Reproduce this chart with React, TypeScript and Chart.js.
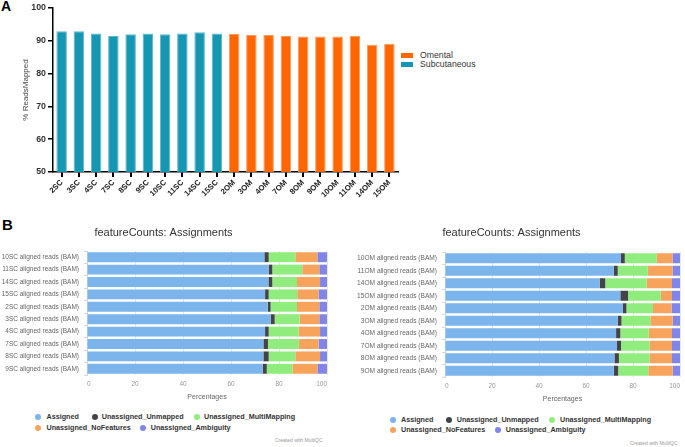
import React, { useEffect, useRef } from 'react';
import { Chart, registerables } from 'chart.js';

Chart.register(...registerables);

const FONT = "'Liberation Sans', Arial, Helvetica, sans-serif";

// ---------- Panel A data ----------
const samplesA = ['2SC', '3SC', '4SC', '7SC', '8SC', '9SC', '10SC', '11SC', '14SC', '15SC',
  '2OM', '3OM', '4OM', '7OM', '8OM', '9OM', '10OM', '11OM', '14OM', '15OM'];
const omentalA = [null, null, null, null, null, null, null, null, null, null,
  92.1, 91.8, 91.8, 91.5, 91.3, 91.3, 91.3, 91.5, 88.8, 89.1];
const subcutaneousA = [92.9, 92.9, 92.2, 91.5, 92.0, 92.2, 92.0, 92.2, 92.6, 92.2,
  null, null, null, null, null, null, null, null, null, null];
const yTicksA = [50, 60, 70, 80, 90, 100];

// ---------- Panel B data ----------
const seriesNames = ['Assigned', 'Unassigned_Unmapped', 'Unassigned_MultiMapping', 'Unassigned_NoFeatures', 'Unassigned_Ambiguity'];
const seriesColors = ['#7cb5ec', '#434348', '#90ed7d', '#f7a35c', '#8085e9'];

const samplesSC = ['10SC aligned reads (BAM)', '11SC aligned reads (BAM)', '14SC aligned reads (BAM)', '15SC aligned reads (BAM)',
  '2SC aligned reads (BAM)', '3SC aligned reads (BAM)', '4SC aligned reads (BAM)', '7SC aligned reads (BAM)',
  '8SC aligned reads (BAM)', '9SC aligned reads (BAM)'];
const assignedSC = [73.9, 75.8, 75.6, 74.2, 75.3, 76.5, 74.2, 73.5, 73.5, 73.2];
const unmappedSC = [1.8, 1.4, 1.6, 1.5, 1.2, 1.7, 1.5, 1.9, 2.2, 1.7];
const multiSC = [11.1, 12.5, 10.3, 11.9, 11.0, 10.4, 12.5, 12.9, 11.1, 10.7];
const noFeatSC = [9.2, 7.1, 9.6, 8.9, 9.3, 8.2, 8.9, 8.2, 10.3, 10.4];
const ambigSC = [4.0, 3.2, 2.9, 3.5, 3.2, 3.2, 2.9, 3.5, 2.9, 4.0];

const samplesOM = ['10OM aligned reads (BAM)', '11OM aligned reads (BAM)', '14OM aligned reads (BAM)', '15OM aligned reads (BAM)',
  '2OM aligned reads (BAM)', '3OM aligned reads (BAM)', '4OM aligned reads (BAM)', '7OM aligned reads (BAM)',
  '8OM aligned reads (BAM)', '9OM aligned reads (BAM)'];
const assignedOM = [74.9, 71.8, 65.8, 74.6, 75.7, 73.5, 72.8, 73.2, 72.1, 71.8];
const unmappedOM = [1.6, 1.7, 2.4, 3.3, 1.5, 1.6, 1.8, 1.7, 1.9, 1.9];
const multiOM = [13.6, 12.8, 17.6, 13.9, 11.3, 12.3, 12.1, 12.1, 13.0, 12.8];
const noFeatOM = [6.7, 10.5, 10.8, 4.8, 7.9, 9.5, 9.9, 9.6, 9.6, 10.4];
const ambigOM = [3.2, 3.2, 3.4, 3.4, 3.6, 3.1, 3.4, 3.4, 3.4, 3.1];

const pctTicks = [0, 20, 40, 60, 80, 100];

function useChart(factory: () => any) {
  const ref = useRef<HTMLCanvasElement | null>(null);
  useEffect(() => {
    if (!ref.current) return;
    const chart = new Chart(ref.current, factory());
    return () => chart.destroy();
  }, []);
  return ref;
}

function PanelA() {
  const ref = useChart(() => ({
    type: 'bar',
    data: {
      labels: samplesA,
      datasets: [
        { label: 'Omental', data: omentalA, backgroundColor: '#ff6600', borderColor: '#ff9a5c', borderWidth: 1, grouped: false },
        { label: 'Subcutaneous', data: subcutaneousA, backgroundColor: '#1596b2', borderColor: '#5db8cc', borderWidth: 1, grouped: false },
      ],
    },
    options: {
      responsive: false,
      animation: false,
      layout: { padding: { top: 8, right: 2, left: 0, bottom: 0 } },
      plugins: { legend: { display: false }, tooltip: { enabled: false } },
      datasets: { bar: { barPercentage: 0.61, categoryPercentage: 1 } },
      scales: {
        x: {
          afterFit: (s: any) => { s.height = 33; },
          grid: { display: true, drawOnChartArea: false, drawTicks: true, tickLength: 5, offset: false, color: '#000', lineWidth: 2 },
          border: { display: true, color: '#000', width: 1.5 },
          ticks: { minRotation: 45, maxRotation: 45, autoSkip: false, padding: 1, color: '#222', font: { family: FONT, size: 7.8, weight: 'bold' } },
        },
        y: {
          min: yTicksA[0],
          max: yTicksA[yTicksA.length - 1],
          afterFit: (s: any) => { s.width = 53; },
          afterBuildTicks: (s: any) => { s.ticks = yTicksA.map((v) => ({ value: v })); },
          grid: { display: true, drawOnChartArea: false, drawTicks: true, tickLength: 5, color: '#000', lineWidth: 1.5 },
          border: { display: true, color: '#000', width: 1.5 },
          ticks: { padding: 2, color: '#333', font: { family: FONT, size: 8.8, weight: 'bold' } },
          title: { display: true, text: '% ReadsMapped', color: '#444', padding: { top: 20.5, bottom: 0 }, font: { family: FONT, size: 8 } },
        },
      },
    },
  }));
  return <canvas ref={ref} width={400} height={205} style={{ position: 'absolute', left: 0, top: 0, width: 400, height: 205 }} />;
}

function PanelB(props: {
  labels: string[]; values: number[][]; titleTop: number; titleBottom: number;
  yWidth: number; xHeight: number; padRight: number; width: number; left: number; titlePadBottom: number; labelSize: number;
}) {
  const ref = useChart(() => ({
    type: 'bar',
    data: {
      labels: props.labels,
      datasets: seriesNames.map((name, i) => ({
        label: name, data: props.values[i], backgroundColor: seriesColors[i], borderWidth: 0,
      })),
    },
    options: {
      responsive: false,
      animation: false,
      indexAxis: 'y',
      layout: { padding: { top: 0, right: props.padRight, left: 0, bottom: 0 } },
      datasets: { bar: { barPercentage: 0.8, categoryPercentage: 1 } },
      plugins: {
        legend: { display: false },
        tooltip: { enabled: false },
        title: {
          display: true, text: 'featureCounts: Assignments', color: '#333',
          padding: { top: props.titleTop, bottom: props.titleBottom },
          font: { family: FONT, size: 11, weight: 'normal', lineHeight: 1.2 },
        },
      },
      scales: {
        x: {
          stacked: true, min: 0, max: 100,
          afterFit: (s: any) => { s.height = props.xHeight; },
          afterBuildTicks: (s: any) => { s.ticks = pctTicks.map((v) => ({ value: v })); },
          grid: { color: '#e6e6e6', lineWidth: 1, drawTicks: false },
          border: { display: false },
          ticks: { padding: 5, align: 'inner', color: '#999', font: { family: FONT, size: 6.5 } },
          title: { display: true, text: 'Percentages', color: '#666', padding: { top: 0, bottom: props.titlePadBottom }, font: { family: FONT, size: 7 } },
        },
        y: {
          stacked: true,
          afterFit: (s: any) => { s.width = props.yWidth; },
          grid: { display: true, drawOnChartArea: false, drawTicks: true, tickLength: 3, offset: true, color: '#ccd6eb' },
          border: { display: true, color: '#ccd6eb', width: 1 },
          ticks: { padding: 5, autoSkip: false, color: '#666', font: { family: FONT, size: props.labelSize } },
        },
      },
    },
  }));
  return <canvas ref={ref} width={props.width} height={190} style={{ position: 'absolute', left: props.left, top: 215, width: props.width, height: 190 }} />;
}

type LegendItem = { name: string; color: string; dot: number; text: number; y: number };

function DotLegend({ items }: { items: LegendItem[] }) {
  return (
    <>
      {items.map((it) => (
        <React.Fragment key={it.name}>
          <div style={{ position: 'absolute', left: it.dot - 3, top: it.y - 3, width: 6, height: 6, borderRadius: 3, background: it.color }} />
          <div style={{ position: 'absolute', left: it.text, top: it.y - 5, height: 10, lineHeight: '10px', fontFamily: FONT, fontSize: 7.2, fontWeight: 'bold', color: '#333', whiteSpace: 'nowrap' }}>{it.name}</div>
        </React.Fragment>
      ))}
    </>
  );
}

const leftLegendPos = [[38, 46.5, 417], [95, 101.7, 417], [196.7, 204, 417], [38, 46.5, 428.3], [143.3, 150.7, 428.3]];
const rightLegendPos = [[392.7, 401, 419.7], [449, 456.7, 419.7], [552.3, 560, 419.7], [392.7, 401, 430.3], [498.3, 505.7, 430.3]];

export default function App() {
  const leftItems = seriesNames.map((n, i) => ({ name: n, color: seriesColors[i], dot: leftLegendPos[i][0], text: leftLegendPos[i][1], y: leftLegendPos[i][2] }));
  const rightItems = seriesNames.map((n, i) => ({ name: n, color: seriesColors[i], dot: rightLegendPos[i][0], text: rightLegendPos[i][1], y: rightLegendPos[i][2] }));
  return (
    <div style={{ position: 'absolute', left: 0, top: 0, width: 685, height: 447, overflow: 'hidden', background: '#fff' }}>
      <div style={{ position: 'absolute', left: 1, top: -2, fontFamily: FONT, fontSize: 14, fontWeight: 'bold', color: '#000' }}>A</div>
      <div style={{ position: 'absolute', left: 2, top: 216, fontFamily: FONT, fontSize: 15, fontWeight: 'bold', color: '#000' }}>B</div>
      <PanelA />
      <div style={{ position: 'absolute', left: 401, top: 52.7, width: 12, height: 5, background: '#ff6600' }} />
      <div style={{ position: 'absolute', left: 401, top: 62, width: 12, height: 5, background: '#1596b2' }} />
      <div style={{ position: 'absolute', left: 420, top: 50, lineHeight: '10px', fontFamily: FONT, fontSize: 8.7, color: '#333' }}>Omental</div>
      <div style={{ position: 'absolute', left: 420, top: 59, lineHeight: '10px', fontFamily: FONT, fontSize: 8.7, color: '#333' }}>Subcutaneous</div>
      <PanelB labels={samplesSC} values={[assignedSC, unmappedSC, multiSC, noFeatSC, ambigSC]}
        titleTop={11} titleBottom={11.8} yWidth={87} xHeight={30} padRight={8} width={335} left={0} titlePadBottom={3.5} labelSize={6.5} />
      <PanelB labels={samplesOM} values={[assignedOM, unmappedOM, multiOM, noFeatOM, ambigOM]}
        titleTop={11.5} titleBottom={12.3} yWidth={105} xHeight={28} padRight={2} width={345} left={340} titlePadBottom={1.5} labelSize={6.6} />
      <DotLegend items={leftItems} />
      <DotLegend items={rightItems} />
      <div style={{ position: 'absolute', left: 275, top: 437, lineHeight: '6px', fontFamily: FONT, fontSize: 5, color: '#999', whiteSpace: 'nowrap' }}>Created with MultiQC</div>
      <div style={{ position: 'absolute', left: 630, top: 440, lineHeight: '6px', fontFamily: FONT, fontSize: 5, color: '#999', whiteSpace: 'nowrap' }}>Created with MultiQC</div>
    </div>
  );
}
